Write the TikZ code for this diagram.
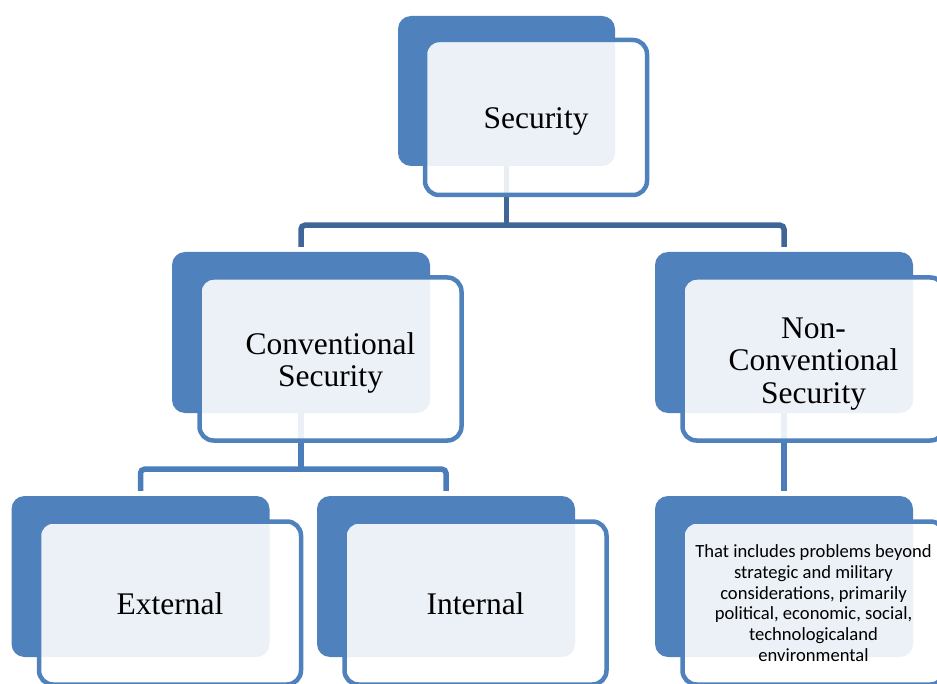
\documentclass[tikz,border=0pt]{standalone}
\usepackage{fontspec}
\setmainfont{Liberation Serif}
\newfontfamily\calibri{Carlito}
\usetikzlibrary{backgrounds}

\definecolor{boxblue}{HTML}{4F81BD}
\definecolor{linkdark}{HTML}{3F6698}
\definecolor{linkblue}{HTML}{4A7DBA}
\newcommand\boxstrut{\rule[-7pt]{0pt}{37pt}}

\begin{document}
\begin{tikzpicture}[x=1pt, y=-1pt,
    back/.style={fill=boxblue, rounded corners=13pt, inner sep=0pt,
      minimum width=258pt, minimum height=161pt},
    front/.style={draw=boxblue, line width=4.5pt, fill=white, fill opacity=0.89,
      text opacity=1, rounded corners=14pt, inner sep=0pt, align=center,
      minimum width=262pt, minimum height=163pt, xshift=29.5pt, yshift=-26.5pt,
      font=\fontsize{31.5}{32.5}\selectfont},
    link/.style={line width=5.5pt, rounded corners=4pt},
    gap/.style={shorten <=5pt, shorten >=5pt}]
          \useasboundingbox (0,0) rectangle (937,684);
          \clip (0,0) rectangle (937,684);

          \node[back, minimum width=217pt, minimum height=150pt] (secb) at (506.5,91) {};
          \node[front, minimum width=222pt, minimum height=155pt] (sec) at (secb) {\boxstrut Security};

          \node[back] (convb) at (301,332.5) {};
          \node[front] (conv) at (convb) {\boxstrut Conventional\\Security};
          \node[back] (nscb) at (784,332.5) {};
          \node[front] (nsc) at (nscb) {\boxstrut Non-\\Conventional\\Security};

          \node[back] (extb) at (140.5,576.5) {};
          \node[front] (ext) at (extb) {\boxstrut External};
          \node[back] (intb) at (446,576.5) {};
          \node[front] (int) at (intb) {\boxstrut Internal};
          \node[back] (ncdb) at (784,576.5) {};
          \node[front, font=\calibri\fontsize{18.6}{20.7}\selectfont] (ncd) at (ncdb)
            {That includes problems beyond\\strategic and military\\considerations, primarily\\political, economic, social,\\technologicaland\\environmental};

          \coordinate (secfork) at ([yshift=-59pt]secb.south);
          \coordinate (convfork) at ([yshift=-56pt]convb.south);

          \begin{pgfonlayer}{background}
          \draw[link, linkdark] (secb.south) -- (secfork);
          \draw[link, linkdark, gap] (convb.north) |- (secfork) -| (nscb.north);
          \draw[link, linkblue] (convb.south) -- (convfork);
          \draw[link, linkblue, gap] (extb.north) |- (convfork) -| (intb.north);
          \draw[link, linkblue, shorten >=5pt] (nscb.south) -- (ncdb.north);
          \end{pgfonlayer}
        \end{tikzpicture}
\end{document}
